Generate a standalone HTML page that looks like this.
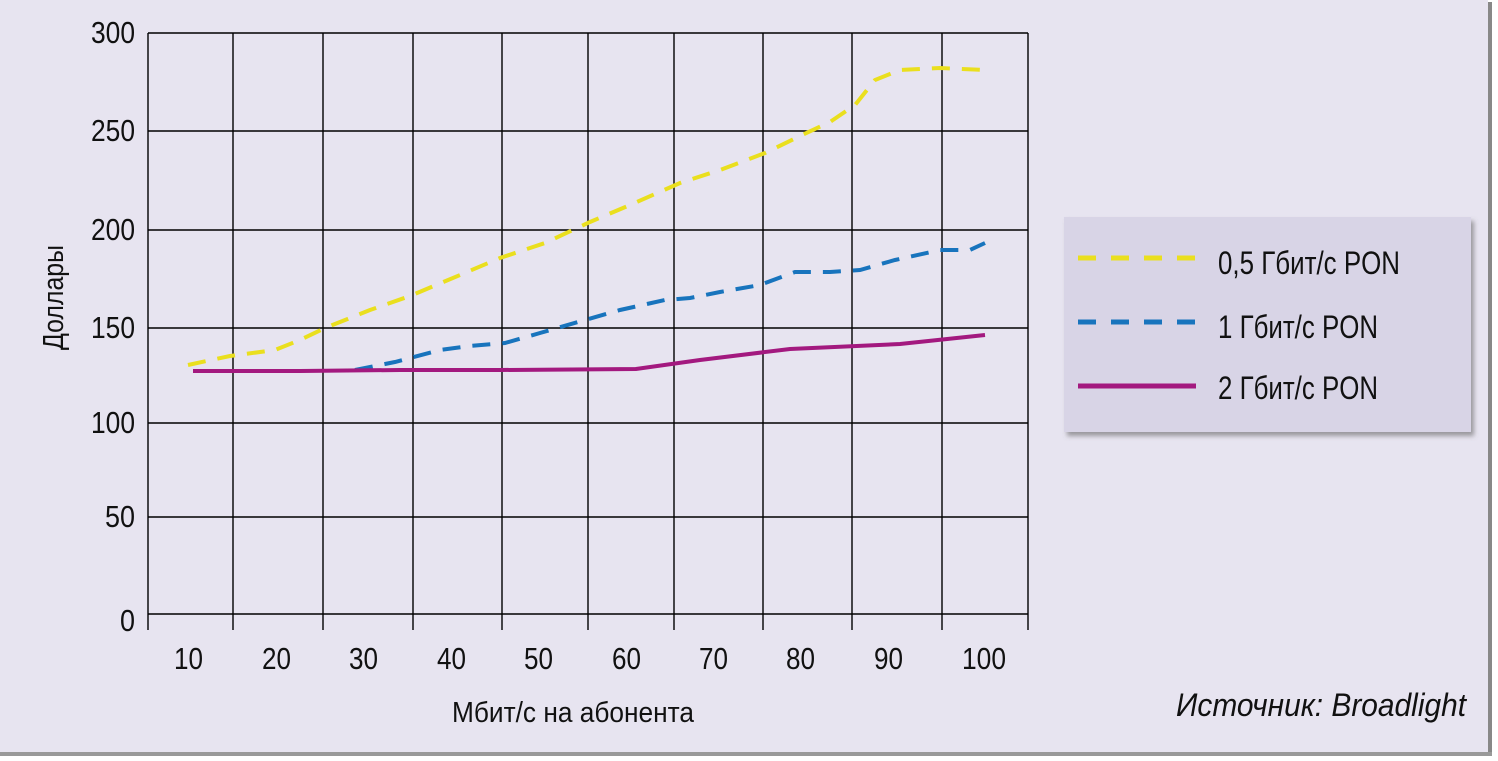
<!DOCTYPE html>
<html><head><meta charset="utf-8"><style>
body{margin:0;width:1498px;height:761px;background:#fff;overflow:hidden}
svg{display:block}
text{font-family:"Liberation Sans","DejaVu Sans",sans-serif;fill:#111}
</style></head><body>
<svg width="1498" height="761" viewBox="0 0 1498 761">
<defs><filter id="sh" x="-5%" y="-5%" width="115%" height="125%"><feDropShadow dx="3" dy="4" stdDeviation="2.5" flood-color="#666" flood-opacity="0.6"/></filter></defs>
<rect x="0" y="0" width="1498" height="761" fill="#fff"/>
<rect x="0" y="0" width="1488" height="752" fill="#e7e4f0"/>
<rect x="1488" y="2" width="4" height="752" fill="#888"/>
<rect x="0" y="752" width="1492" height="4" fill="#999"/>
<g stroke="#000" stroke-width="1.4" fill="none">
<line x1="148" y1="33" x2="148" y2="630"/>
<line x1="148" y1="33" x2="1028" y2="33"/>
<line x1="148" y1="131" x2="1028" y2="131"/>
<line x1="148" y1="230" x2="1028" y2="230"/>
<line x1="148" y1="328" x2="1028" y2="328"/>
<line x1="148" y1="423" x2="1028" y2="423"/>
<line x1="148" y1="517" x2="1028" y2="517"/>
<line x1="148" y1="614" x2="1028" y2="614"/>
<line x1="233" y1="33" x2="233" y2="630"/>
<line x1="323" y1="33" x2="323" y2="630"/>
<line x1="413" y1="33" x2="413" y2="630"/>
<line x1="502" y1="33" x2="502" y2="630"/>
<line x1="588" y1="33" x2="588" y2="630"/>
<line x1="674" y1="33" x2="674" y2="630"/>
<line x1="763" y1="33" x2="763" y2="630"/>
<line x1="852" y1="33" x2="852" y2="630"/>
<line x1="942" y1="33" x2="942" y2="630"/>
<line x1="1028" y1="33" x2="1028" y2="630"/>
</g>
<g font-size="31" lengthAdjust="spacingAndGlyphs">
<text x="91" y="43" textLength="44" lengthAdjust="spacingAndGlyphs">300</text>
<text x="91" y="141" textLength="44" lengthAdjust="spacingAndGlyphs">250</text>
<text x="91" y="240" textLength="44" lengthAdjust="spacingAndGlyphs">200</text>
<text x="91" y="338" textLength="44" lengthAdjust="spacingAndGlyphs">150</text>
<text x="91" y="433" textLength="44" lengthAdjust="spacingAndGlyphs">100</text>
<text x="105" y="527" textLength="30" lengthAdjust="spacingAndGlyphs">50</text>
<text x="120" y="631" textLength="15" lengthAdjust="spacingAndGlyphs">0</text>
</g>
<g font-size="31">
<text x="174" y="669" textLength="29" lengthAdjust="spacingAndGlyphs">10</text>
<text x="262" y="669" textLength="29" lengthAdjust="spacingAndGlyphs">20</text>
<text x="349" y="669" textLength="29" lengthAdjust="spacingAndGlyphs">30</text>
<text x="437" y="669" textLength="29" lengthAdjust="spacingAndGlyphs">40</text>
<text x="524" y="669" textLength="29" lengthAdjust="spacingAndGlyphs">50</text>
<text x="612" y="669" textLength="29" lengthAdjust="spacingAndGlyphs">60</text>
<text x="699" y="669" textLength="29" lengthAdjust="spacingAndGlyphs">70</text>
<text x="786" y="669" textLength="29" lengthAdjust="spacingAndGlyphs">80</text>
<text x="874" y="669" textLength="29" lengthAdjust="spacingAndGlyphs">90</text>
<text x="962" y="669" textLength="44" lengthAdjust="spacingAndGlyphs">100</text>
<text x="452" y="722" font-size="29" textLength="242" lengthAdjust="spacingAndGlyphs">Мбит/с на абонента</text>
</g>
<text x="0" y="0" font-size="29" textLength="105" lengthAdjust="spacingAndGlyphs" transform="translate(63,350) rotate(-90)">Доллары</text>
<text x="1176" y="716" font-size="32" font-style="italic" textLength="290" lengthAdjust="spacingAndGlyphs">Источник: Broadlight</text>
<polyline fill="none" stroke="#eadf1e" stroke-width="4" stroke-dasharray="18,12" points="188,365 230,356 275,350 300,340 325,328 370,310 410,296 460,275 500,258 545,243 590,222 630,205 680,183 720,170 765,153 800,136 830,122 855,105 875,80 900,70 940,68 985,70"/>
<polyline fill="none" stroke="#1874bd" stroke-width="4" stroke-dasharray="18,12" points="355,370 395,362 440,350 470,346 505,343 540,333 585,320 620,310 665,300 690,298 720,292 760,285 795,272 830,272 860,270 895,260 940,250 970,250 985,243"/>
<polyline fill="none" stroke="#a3197f" stroke-width="4" points="193,371 300,371 400,370 500,370 636,369 700,360 790,349 900,344 985,335"/>
<rect x="1064" y="217" width="407" height="215" fill="#d8d4e6" filter="url(#sh)"/>
<line x1="1078" y1="258" x2="1196" y2="258" stroke="#eadf1e" stroke-width="5" stroke-dasharray="18,15"/>
<line x1="1078" y1="322" x2="1196" y2="322" stroke="#1874bd" stroke-width="5" stroke-dasharray="18,15"/>
<line x1="1078" y1="386" x2="1196" y2="386" stroke="#a3197f" stroke-width="5"/>
<g font-size="32">
<text x="1218" y="274" textLength="182" lengthAdjust="spacingAndGlyphs">0,5 Гбит/с PON</text>
<text x="1218" y="338" textLength="160" lengthAdjust="spacingAndGlyphs">1 Гбит/с PON</text>
<text x="1218" y="399" textLength="160" lengthAdjust="spacingAndGlyphs">2 Гбит/с PON</text>
</g>
</svg>
</body></html>
